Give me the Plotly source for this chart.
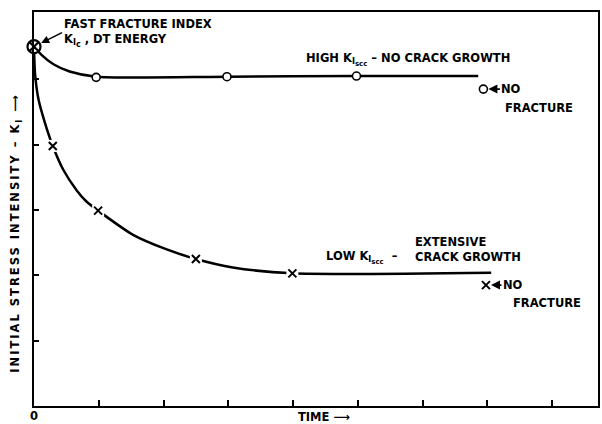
import plotly.graph_objects as go

# ---- data ----
start_x = [0.0]
start_y = [5.50]

hi_x = [0.0, 0.12, 0.30, 0.55, 0.96, 2.98, 4.98, 6.86]
hi_y = [5.50, 5.37, 5.23, 5.12, 5.04, 5.04, 5.05, 5.05]
hi_mark_x = [0.96, 2.98, 4.98]
hi_mark_y = [5.03, 5.04, 5.05]

lo_x = [0.0, 0.015, 0.07, 0.17, 0.29, 0.45, 0.66, 0.81, 0.99, 1.53, 2.04, 2.50, 3.07, 3.99, 7.06]
lo_y = [5.50, 5.10, 4.69, 4.33, 3.98, 3.62, 3.30, 3.13, 2.99, 2.62, 2.40, 2.25, 2.12, 2.03, 2.04]
lo_mark_x = [0.29, 0.99, 2.50, 3.99]
lo_mark_y = [3.98, 2.99, 2.25, 2.03]

nofrac_hi_x = [6.94]
nofrac_hi_y = [4.85]
nofrac_lo_x = [6.98]
nofrac_lo_y = [1.85]

x_ticks = [1, 2, 3, 4, 5, 6, 7, 8]
y_ticks = [1, 2, 3, 4, 5]

FONT = "DejaVu Sans"
INK = "black"

fig = go.Figure()

# curves
fig.add_trace(go.Scatter(x=hi_x, y=hi_y, mode="lines", line=dict(color=INK, width=2.5, shape="spline", smoothing=0.7), hoverinfo="skip"))
fig.add_trace(go.Scatter(x=lo_x, y=lo_y, mode="lines", line=dict(color=INK, width=2.5, shape="spline", smoothing=0.7), hoverinfo="skip"))

# high markers (open circles)
fig.add_trace(go.Scatter(x=hi_mark_x + nofrac_hi_x, y=hi_mark_y + nofrac_hi_y, mode="markers",
                         marker=dict(symbol="circle", size=8, color="white", line=dict(color=INK, width=1.6))))
# low markers (X with gap)
fig.add_trace(go.Scatter(x=lo_mark_x + nofrac_lo_x, y=lo_mark_y + nofrac_lo_y, mode="markers",
                         marker=dict(symbol="square", size=12, color="white", line=dict(width=0))))
fig.add_trace(go.Scatter(x=lo_mark_x + nofrac_lo_x, y=lo_mark_y + nofrac_lo_y, mode="markers",
                         marker=dict(symbol="x-thin-open", size=8, color=INK, line=dict(color=INK, width=2))))
# fast fracture index (crossed circle)
fig.add_trace(go.Scatter(x=start_x, y=start_y, mode="markers",
                         marker=dict(symbol="circle-x", size=13, color="white", line=dict(color=INK, width=2.2))))

tf = dict(family=FONT, size=11.5, color=INK, weight="bold")
SUB_IC = "K<sub>I<sub><span style='font-size:8px'>c</span></sub></sub>"
SUB_ISCC = "K<sub>I<sub><span style='font-size:7px'>scc</span></sub></sub>"
ann = []
ann.append(dict(x=start_x[0], y=start_y[0], text="FAST FRACTURE INDEX<br>" + SUB_IC + " , DT ENERGY",
                xanchor="left", yanchor="middle", align="left", font=tf,
                showarrow=True, ax=28, ay=-14,
                arrowhead=2, arrowsize=1, arrowwidth=1.6, arrowcolor=INK, standoff=8))
ann.append(dict(x=4.17, y=5.30, text="HIGH " + SUB_ISCC + " \u2013 NO CRACK GROWTH", xanchor="left", yanchor="middle", showarrow=False, font=tf))
ann.append(dict(x=nofrac_hi_x[0], y=nofrac_hi_y[0], text="NO", showarrow=True, ax=28, ay=0, arrowhead=2, arrowsize=1, arrowwidth=1.8, arrowcolor=INK, standoff=5, font=tf))
ann.append(dict(x=7.25, y=4.56, text="FRACTURE", xanchor="left", yanchor="middle", showarrow=False, font=tf))
ann.append(dict(x=4.48, y=2.27, text="LOW " + SUB_ISCC + "  \u2013", xanchor="left", yanchor="middle", showarrow=False, font=tf))
ann.append(dict(x=5.86, y=2.40, text="EXTENSIVE<br>CRACK GROWTH", xanchor="left", yanchor="middle", align="left", showarrow=False, font=tf))
ann.append(dict(x=nofrac_lo_x[0], y=nofrac_lo_y[0], text="NO", showarrow=True, ax=27, ay=0, arrowhead=2, arrowsize=1, arrowwidth=1.8, arrowcolor=INK, standoff=5, font=tf))
ann.append(dict(x=7.37, y=1.57, text="FRACTURE", xanchor="left", yanchor="middle", showarrow=False, font=tf))
ann.append(dict(x=(325 - 34) / 566, y=-0.028, xref="paper", yref="paper", text="TIME \u27f6", xanchor="center", yanchor="middle", showarrow=False, font=tf))
ann.append(dict(x=(16 - 34) / 566, y=0.44, xref="paper", yref="paper",
                text="<span style='letter-spacing:2px'>INITIAL STRESS INTENSITY \u2013 K<sub>I</sub> \u27f6</span>",
                textangle=-90, xanchor="center", yanchor="middle", showarrow=False, font=tf))
ann.append(dict(x=0, y=-0.025, xref="x", yref="paper", text="0", xanchor="center", yanchor="middle", showarrow=False, font=tf))

fig.update_layout(
    width=602, height=424,
    margin=dict(l=34, r=2, t=12, b=18),
    paper_bgcolor="white", plot_bgcolor="white",
    showlegend=False,
    annotations=ann,
    font=dict(family=FONT, size=11.5, color=INK),
)
fig.update_xaxes(range=[0, 8.71], tickvals=x_ticks, ticks="inside", ticklen=6, tickwidth=1.5, tickcolor=INK,
                 showticklabels=False, showgrid=False, zeroline=False,
                 showline=True, linecolor=INK, linewidth=2, mirror=True)
fig.update_yaxes(range=[0, 6.03], tickvals=y_ticks, ticks="inside", ticklen=5, tickwidth=1.5, tickcolor=INK,
                 showticklabels=False, showgrid=False, zeroline=False,
                 showline=True, linecolor=INK, linewidth=2, mirror=True)

fig.update_traces(cliponaxis=False)

fig.write_html("out.html", config={"displayModeBar": False},
               post_script="document.body.style.margin='0';")
